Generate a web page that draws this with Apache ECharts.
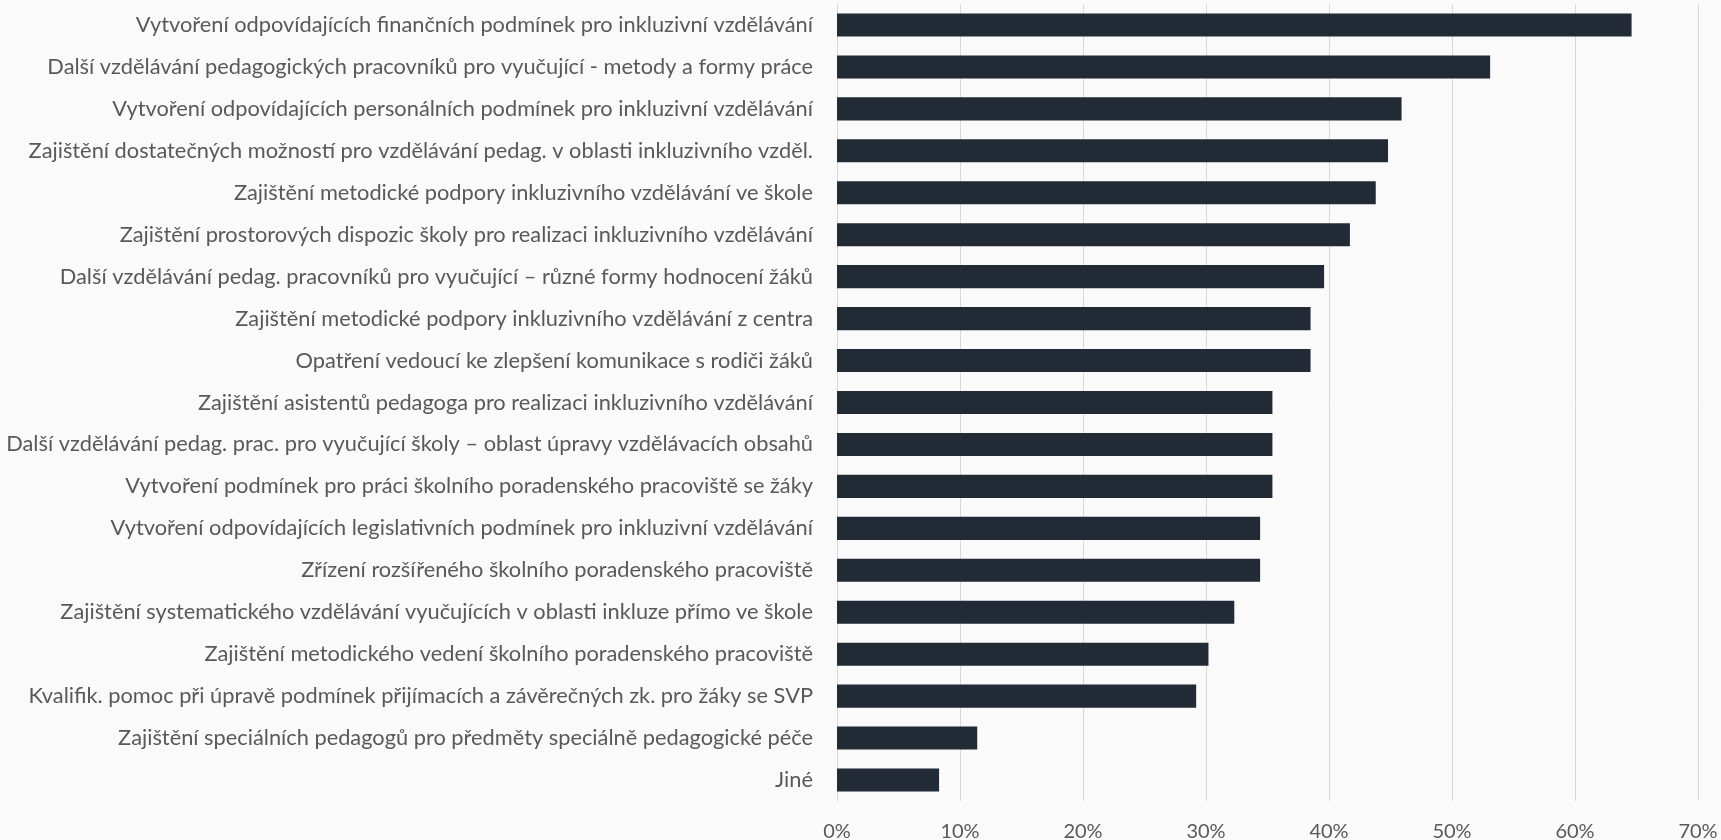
<!DOCTYPE html>
<html>
<head>
<meta charset="utf-8">
<script src="https://cdn.jsdelivr.net/npm/echarts@6/dist/echarts.min.js"></script>
<style>
  html, body { margin: 0; padding: 0; background: #fafafa; }
  #chart { width: 1721px; height: 840px; }
</style>
</head>
<body>
<div id="chart"></div>
<script>
const categories = [
  'Vytvoření odpovídajících finančních podmínek pro inkluzivní vzdělávání',
  'Další vzdělávání pedagogických pracovníků pro vyučující - metody a formy práce',
  'Vytvoření odpovídajících personálních podmínek pro inkluzivní vzdělávání',
  'Zajištění dostatečných možností pro vzdělávání pedag. v oblasti inkluzivního vzděl.',
  'Zajištění metodické podpory inkluzivního vzdělávání ve škole',
  'Zajištění prostorových dispozic školy pro realizaci inkluzivního vzdělávání',
  'Další vzdělávání pedag. pracovníků pro vyučující – různé formy hodnocení žáků',
  'Zajištění metodické podpory inkluzivního vzdělávání z centra',
  'Opatření vedoucí ke zlepšení komunikace s rodiči žáků',
  'Zajištění asistentů pedagoga pro realizaci inkluzivního vzdělávání',
  'Další vzdělávání pedag. prac. pro vyučující školy – oblast úpravy vzdělávacích obsahů',
  'Vytvoření podmínek pro práci školního poradenského pracoviště se žáky',
  'Vytvoření odpovídajících legislativních podmínek pro inkluzivní vzdělávání',
  'Zřízení rozšířeného školního poradenského pracoviště',
  'Zajištění systematického vzdělávání vyučujících v oblasti inkluze přímo ve škole',
  'Zajištění metodického vedení školního poradenského pracoviště',
  'Kvalifik. pomoc při úpravě podmínek přijímacích a závěrečných zk. pro žáky se SVP',
  'Zajištění speciálních pedagogů pro předměty speciálně pedagogické péče',
  'Jiné'
];

// podíl odpovědí v %
const values = [64.6, 53.1, 45.9, 44.8, 43.8, 41.7, 39.6, 38.5, 38.5, 35.4,
  35.4, 35.4, 34.4, 34.4, 32.3, 30.2, 29.2, 11.4, 8.3];

const xTicks = { min: 0, max: 70, interval: 10 };

const chart = echarts.init(document.getElementById('chart'));
chart.setOption({
  backgroundColor: '#fafafa',
  animation: false,
  textStyle: { fontFamily: 'Lato' },
  grid: { left: 837, right: 23, top: 4, bottom: 39, containLabel: false, outerBoundsMode: 'none' },
  xAxis: {
    type: 'value',
    min: xTicks.min,
    max: xTicks.max,
    interval: xTicks.interval,
    axisLine: { show: false },
    axisTick: { show: false },
    splitLine: { lineStyle: { color: '#d9d9d9', width: 1 } },
    axisLabel: {
      formatter: '{value}%',
      color: '#595959',
      fontSize: 20,
      margin: 21
    }
  },
  yAxis: {
    type: 'category',
    inverse: true,
    data: categories,
    axisLine: { lineStyle: { color: '#d9d9d9' } },
    axisTick: { show: false },
    axisLabel: {
      color: '#595959',
      fontSize: 21.8,
      margin: 24
    }
  },
  series: [{
    type: 'bar',
    data: values,
    barCategoryGap: '45%',
    itemStyle: { color: '#222a35' }
  }]
});
</script>
</body>
</html>
